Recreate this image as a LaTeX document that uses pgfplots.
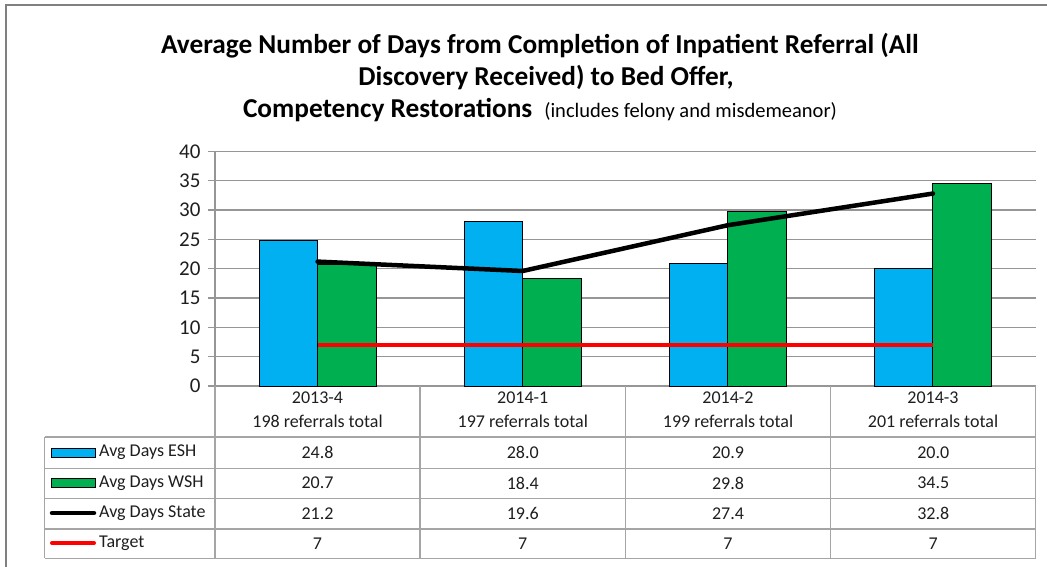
\documentclass[border=0pt]{standalone}
\usepackage{pgfplots}
\pgfplotsset{compat=1.18}
\usepackage{fontspec}
\setmainfont{Carlito}
\definecolor{esh}{HTML}{00B0F0}
\definecolor{wsh}{HTML}{00B050}
\definecolor{tgt}{HTML}{FF0000}
\definecolor{gridgray}{RGB}{150,150,150}
\definecolor{tabgray}{RGB}{165,165,165}
\definecolor{framegray}{RGB}{128,128,128}
\definecolor{txt}{RGB}{30,30,30}
\begin{document}
\begin{tikzpicture}[x=1pt,y=1pt]
\useasboundingbox (0,0) rectangle (1047,567);
% outer frame (top and left visible)
\draw[framegray, line width=2pt] (6,0) -- (6,562) -- (1047,562);
% title
\node[anchor=base, font=\fontsize{27.3}{32}\selectfont\bfseries, text=black] at (540,513) {Average Number of Days from Completion of Inpatient Referral (All};
\node[anchor=base, font=\fontsize{27.3}{32}\selectfont\bfseries, text=black] at (546,481) {Discovery Received) to Bed Offer,};
\node[anchor=base, text=black] at (540,449) {\fontsize{27.3}{32}\selectfont\bfseries Competency Restorations\hspace{12pt}\fontsize{20.5}{24}\mdseries\selectfont(includes felony and misdemeanor)};
\begin{axis}[
  at={(215pt,181pt)}, anchor=south west,
  width=820.5pt, height=234.7pt, scale only axis,
  xmin=-0.5, xmax=3.5, ymin=0, ymax=40,
  ytick={0,5,...,40}, xtick=\empty,
  axis lines*=left,
  axis line style={gridgray, line width=1.2pt},
  ymajorgrids, grid style={gridgray, line width=1.2pt},
  tick align=outside, major tick length=7pt,
  ytick style={gridgray, line width=1.2pt},
  /pgf/number format/assume math mode=true,
  yticklabel style={font=\fontsize{21}{24}\selectfont, text=txt, xshift=-4pt},
  clip=false,
]
\addplot[ybar, bar width=0.285, bar shift=-0.1425, fill=esh, draw=black, line width=0.9pt]
  coordinates {(0,24.8) (1,28.0) (2,20.9) (3,20.0)};
\addplot[ybar, bar width=0.285, bar shift=0.1425, fill=wsh, draw=black, line width=0.9pt]
  coordinates {(0,20.7) (1,18.4) (2,29.8) (3,34.5)};
\addplot[black, line width=4.5pt, line join=round, line cap=round, mark=none]
  coordinates {(0,21.2) (1,19.6) (2,27.4) (3,32.8)};
\addplot[tgt, line width=4pt, mark=none]
  coordinates {(0,7) (1,7) (2,7) (3,7)};
\end{axis}
% data table grid
\begin{scope}[tabgray, line width=1.2pt]
\foreach \yy in {130,98.7,68.7,38,8.7} \draw (44.7,\yy) -- (1035.5,\yy);
\draw (44.7,130) -- (44.7,8.7);
\foreach \xx in {215,420,625.5,830.5,1035.5} \draw (\xx,181) -- (\xx,8.7);
\end{scope}
% header cells
\begin{scope}[every node/.style={font=\fontsize{18}{24}\selectfont, text=txt, align=center, anchor=center}]
\node at (317.5,157) {2013-4\\198 referrals total};
\node at (522.75,157) {2014-1\\197 referrals total};
\node at (728,157) {2014-2\\199 referrals total};
\node at (933,157) {2014-3\\201 referrals total};
% values
\foreach \v [count=\i from 0] in {24.8,28.0,20.9,20.0}
  \node at (317.5+205.25*\i,114.5) {\v};
\foreach \v [count=\i from 0] in {20.7,18.4,29.8,34.5}
  \node at (317.5+205.25*\i,84) {\v};
\foreach \v [count=\i from 0] in {21.2,19.6,27.4,32.8}
  \node at (317.5+205.25*\i,53.5) {\v};
\foreach \v [count=\i from 0] in {7,7,7,7}
  \node at (317.5+205.25*\i,23.5) {\v};
\end{scope}
% legend keys
\draw[fill=esh, draw=black, line width=0.9pt] (51,110) rectangle (95,119);
\draw[fill=wsh, draw=black, line width=0.9pt] (51,79.5) rectangle (95,88.5);
\draw[black, line width=4.5pt, line cap=round] (52,54) -- (94,54);
\draw[tgt, line width=4pt, line cap=round] (52,24) -- (94,24);
\begin{scope}[every node/.style={font=\fontsize{18}{24}\selectfont, text=txt, anchor=west, inner sep=0pt}]
\node at (99,114.5) {Avg Days ESH};
\node at (99,84) {Avg Days WSH};
\node at (99,53.5) {Avg Days State};
\node at (99,23.5) {Target};
\end{scope}
\end{tikzpicture}
\end{document}
